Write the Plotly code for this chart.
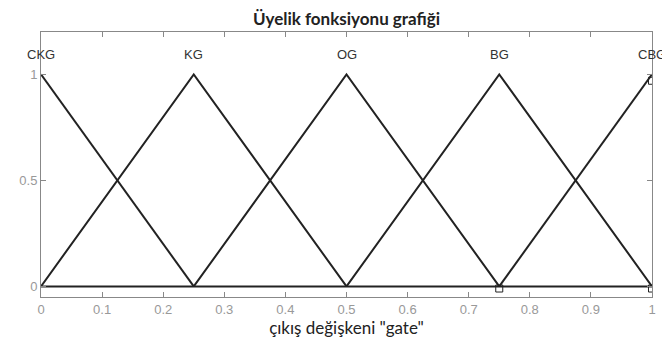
# Üyelik fonksiyonu grafiği - triangular MFs for output "gate"
import plotly.graph_objects as go

mf_names = ["CKG", "KG", "OG", "BG", "CBG"]
mf_x = [
    [0.0, 0.0, 0.25],
    [0.0, 0.25, 0.5],
    [0.25, 0.5, 0.75],
    [0.5, 0.75, 1.0],
    [0.75, 1.0, 1.0],
]
mf_y = [
    [1, 1, 0],
    [0, 1, 0],
    [0, 1, 0],
    [0, 1, 0],
    [0, 1, 1],
]
peaks = [0.0, 0.25, 0.5, 0.75, 1.0]
sel_x = [0.75, 1.0, 1.0]
sel_y = [-0.01, -0.01, 0.97]

fig = go.Figure()

# base line at zero
fig.add_trace(go.Scatter(x=[0, 1], y=[0, 0], mode="lines",
                         line=dict(color="#222", width=2), hoverinfo="skip"))

for name, xs, ys in zip(mf_names, mf_x, mf_y):
    fig.add_trace(go.Scatter(x=xs, y=ys, mode="lines", name=name,
                             line=dict(color="#222", width=2)))

fig.add_trace(go.Scatter(x=sel_x, y=sel_y, mode="markers",
                         marker=dict(symbol="square-open", size=7, color="#222",
                                     line=dict(width=1))))

for name, p in zip(mf_names, peaks):
    fig.add_annotation(x=p, y=1.095, text=name, showarrow=False,
                       font=dict(family="Liberation Sans, Arial", size=13, color="#333"))

axis_common = dict(showline=True, linecolor="#888", linewidth=1, mirror="ticks",
                   ticks="inside", ticklen=5, tickcolor="#888",
                   showgrid=False, zeroline=False, automargin=False,
                   tickfont=dict(family="Liberation Sans, Arial", size=13, color="#999"))

fig.update_xaxes(range=[0, 1], tickvals=[0, 0.1, 0.2, 0.3, 0.4, 0.5, 0.6, 0.7, 0.8, 0.9, 1],
                 ticktext=["0", "0.1", "0.2", "0.3", "0.4", "0.5", "0.6", "0.7", "0.8", "0.9", "1"],
                 title=dict(text='çıkış değişkeni "gate"', standoff=4,
                            font=dict(family="Lato", size=17, color="#222")),
                 **axis_common)
fig.update_yaxes(range=[-0.05, 1.2], tickvals=[0, 0.5, 1], ticktext=["0", "0.5", "1"],
                 **axis_common)

# page body has an 8px margin, so the figure is sized/offset to compensate
fig.update_layout(
    width=662, height=346,
    margin=dict(l=33, r=18, t=24, b=57),
    paper_bgcolor="white", plot_bgcolor="white",
    showlegend=False,
    title=dict(text="<b>Üyelik fonksiyonu grafiği</b>", x=0.5, xanchor="center",
               xref="paper", y=0.968, yanchor="middle",
               font=dict(family="Lato", size=17, color="#222")),
)

fig.write_html("out.html")
